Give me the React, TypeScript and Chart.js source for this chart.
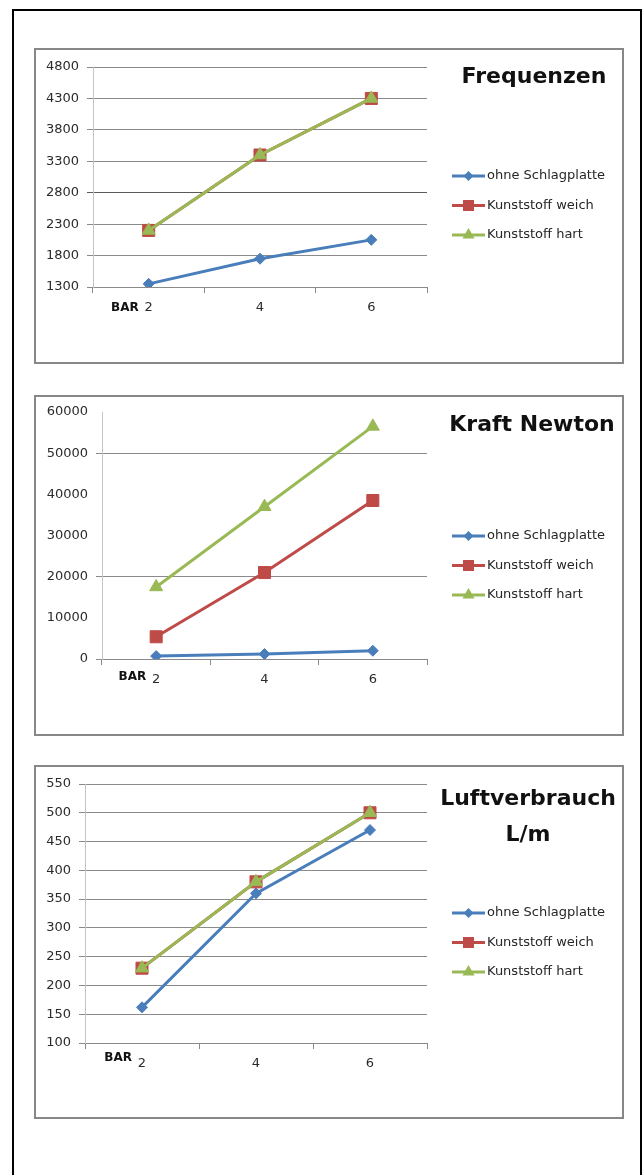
import React, { useEffect, useRef } from "react";
import { Chart, registerables } from "chart.js";

Chart.register(...registerables);

// ---------- data ----------
const categories = ["2", "4", "6"];
const seriesNames = ["ohne Schlagplatte", "Kunststoff weich", "Kunststoff hart"];
const seriesColors = ["#4A7EBB", "#BE4B48", "#98B954"];

const freqOhne = [1350, 1750, 2050];
const freqWeich = [2200, 3400, 4300];
const freqHart = [2200, 3400, 4300];

const kraftOhne = [700, 1200, 2000];
const kraftWeich = [5400, 21000, 38500];
const kraftHart = [17500, 37000, 56500];

const luftOhne = [162, 360, 470];
const luftWeich = [230, 380, 500];
const luftHart = [230, 380, 500];

const freqAxis = [1300, 4800, 500]; // min, max, step
const kraftAxis = [0, 60000, 10000];
const luftAxis = [100, 550, 50];

const freqTitle = ["Frequenzen"];
const kraftTitle = ["Kraft Newton"];
const luftTitle = ["Luftverbrauch", "L/m"];
const xAxisLabel = "BAR";

// ---------- layout ----------
type PanelCfg = {
  x: number; y: number; w: number; h: number;
  left: number; top: number; right: number; xh: number;
  series: number[][];
  axis: number[];
  title: string[];
  titleX: number; titleY: number; titleGap: number;
  legendY: number;
  barDy: number;
  gridStyle: (v: number) => string;
};

const FONT = '"DejaVu Sans", sans-serif';
const GRID = "#8a8a8a";

const panels: PanelCfg[] = [
  {
    x: 34, y: 48, w: 590, h: 316,
    left: 59, top: 19, right: 197, xh: 77,
    series: [freqOhne, freqWeich, freqHart], axis: freqAxis, title: freqTitle,
    titleX: 500, titleY: 29, titleGap: 36, legendY: 128, barDy: 21,
    gridStyle: (v) => (v === 2800 ? "#5a5a5a" : GRID),
  },
  {
    x: 34, y: 395, w: 590, h: 341,
    left: 68, top: 17, right: 197, xh: 77,
    series: [kraftOhne, kraftWeich, kraftHart], axis: kraftAxis, title: kraftTitle,
    titleX: 498, titleY: 30, titleGap: 36, legendY: 141, barDy: 18,
    gridStyle: (v) => (v === 50000 || v === 20000 || v === 0 ? GRID : "rgba(0,0,0,0)"),
  },
  {
    x: 34, y: 765, w: 590, h: 354,
    left: 51, top: 19, right: 197, xh: 76,
    series: [luftOhne, luftWeich, luftHart], axis: luftAxis, title: luftTitle,
    titleX: 494, titleY: 34, titleGap: 36, legendY: 148, barDy: 15,
    gridStyle: () => GRID,
  },
];

const pointStyles = ["rectRot", "rect", "triangle"];
const pointRadii = [5.5, 8.5, 7.5];

function drawMarker(ctx: CanvasRenderingContext2D, kind: number, x: number, y: number) {
  ctx.beginPath();
  if (kind === 0) {
    const r = 5;
    ctx.moveTo(x, y - r);
    ctx.lineTo(x + r, y);
    ctx.lineTo(x, y + r);
    ctx.lineTo(x - r, y);
  } else if (kind === 1) {
    const s = 5.5;
    ctx.rect(x - s, y - s, 2 * s, 2 * s);
  } else {
    const r = 7;
    ctx.moveTo(x, y - r);
    ctx.lineTo(x + r * 0.866, y + r * 0.5);
    ctx.lineTo(x - r * 0.866, y + r * 0.5);
  }
  ctx.closePath();
  ctx.fill();
}

function ChartPanel({ cfg }: { cfg: PanelCfg }) {
  const ref = useRef<HTMLCanvasElement>(null);
  useEffect(() => {
    const extras = {
      id: "extras",
      afterDraw(chart: any) {
        const ctx: CanvasRenderingContext2D = chart.ctx;
        ctx.save();
        // title
        ctx.fillStyle = "#111111";
        ctx.font = `bold 22px ${FONT}`;
        ctx.textAlign = "center";
        ctx.textBaseline = "middle";
        cfg.title.forEach((t, i) => ctx.fillText(t, cfg.titleX, cfg.titleY + i * cfg.titleGap));
        // legend
        const lx0 = 418, lx1 = 451;
        seriesNames.forEach((name, i) => {
          const yy = cfg.legendY + i * 29.5;
          ctx.strokeStyle = seriesColors[i];
          ctx.fillStyle = seriesColors[i];
          ctx.lineWidth = 3;
          ctx.beginPath();
          ctx.moveTo(lx0, yy);
          ctx.lineTo(lx1, yy);
          ctx.stroke();
          drawMarker(ctx, i, (lx0 + lx1) / 2, yy);
          ctx.fillStyle = "#262626";
          ctx.font = `13px ${FONT}`;
          ctx.textAlign = "left";
          ctx.textBaseline = "middle";
          ctx.fillText(name, lx1 + 2, yy);
        });
        // BAR label
        const xs = chart.scales.x;
        ctx.fillStyle = "#111111";
        ctx.font = `bold 12px ${FONT}`;
        ctx.textAlign = "right";
        ctx.textBaseline = "middle";
        ctx.fillText(xAxisLabel, xs.getPixelForValue(0) - 10, chart.chartArea.bottom + cfg.barDy);
        ctx.restore();
      },
    };

    const chart = new Chart(ref.current!, {
      type: "line",
      data: {
        labels: categories,
        datasets: cfg.series.map((d, i) => ({
          label: seriesNames[i],
          data: d,
          borderColor: seriesColors[i],
          backgroundColor: seriesColors[i],
          pointBackgroundColor: seriesColors[i],
          pointBorderColor: seriesColors[i],
          pointBorderWidth: 1,
          borderWidth: 3,
          pointStyle: pointStyles[i] as any,
          pointRadius: pointRadii[i],
          tension: 0,
          order: 2 - i,
        })),
      },
      options: {
        responsive: false,
        animation: false,
        events: [],
        layout: { padding: { top: cfg.top, right: cfg.right, left: 0, bottom: 0 } },
        plugins: { legend: { display: false }, tooltip: { enabled: false }, title: { display: false } },
        scales: {
          x: {
            offset: true,
            grid: { offset: true, drawOnChartArea: false, drawTicks: true, tickLength: 6, color: GRID },
            border: { display: true, color: GRID, width: 1 },
            ticks: { font: { family: FONT, size: 13 }, color: "#2b2b2b", padding: 7, maxRotation: 0 },
            afterFit: (s: any) => { s.height = cfg.xh; },
          },
          y: {
            min: cfg.axis[0],
            max: cfg.axis[1],
            ticks: {
              stepSize: cfg.axis[2],
              font: { family: FONT, size: 13 },
              color: "#2b2b2b",
              padding: 8,
              callback: (v: any) => String(v),
            },
            grid: {
              drawTicks: true,
              tickLength: 6,
              color: (c: any) => cfg.gridStyle(c.tick ? c.tick.value : 0),
            },
            border: { display: true, color: "#c4c4c4", width: 1 },
            afterFit: (s: any) => { s.width = cfg.left; },
          },
        },
      },
      plugins: [extras],
    });
    return () => chart.destroy();
  }, []);

  return (
    <>
      <canvas
        ref={ref}
        width={cfg.w}
        height={cfg.h}
        style={{ position: "absolute", left: cfg.x, top: cfg.y, width: cfg.w, height: cfg.h, background: "#fff" }}
      />
      <div
        style={{
          position: "absolute", left: cfg.x, top: cfg.y, width: cfg.w, height: cfg.h,
          boxSizing: "border-box", border: "2px solid #878787", pointerEvents: "none",
        }}
      />
    </>
  );
}

export default function App() {
  return (
    <div style={{ position: "absolute", left: 0, top: 0, width: 644, height: 1175, overflow: "hidden", background: "#fff" }}>
      <div
        style={{
          position: "absolute", left: 12, top: 9, width: 630, height: 1200, boxSizing: "border-box",
          borderLeft: "2px solid #000", borderRight: "2px solid #000", borderTop: "2px solid #000",
        }}
      />
      {panels.map((p, i) => (
        <ChartPanel key={i} cfg={p} />
      ))}
    </div>
  );
}
